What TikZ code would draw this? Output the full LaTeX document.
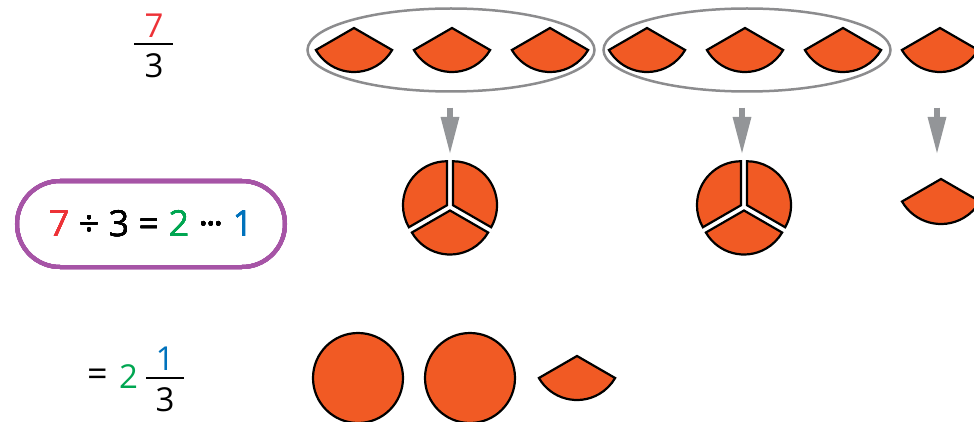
\documentclass[tikz,border=0pt]{standalone}
\usepackage{fontspec}
\setmainfont{Open Sans}
\usepackage{tikz}
\usetikzlibrary{arrows.meta,calc,shapes.geometric}
\definecolor{sliceorange}{RGB}{241,90,36}
\definecolor{groupgray}{RGB}{140,140,142}
\definecolor{arrowgray}{RGB}{147,149,152}
\definecolor{boxpurple}{RGB}{166,84,166}
\definecolor{numred}{RGB}{237,50,55}
\definecolor{numgreen}{RGB}{0,166,81}
\definecolor{numblue}{RGB}{0,114,188}
\newcommand{\cakeslice}[3]{\filldraw[slice] #1 -- ++(#2:#3) arc[start angle=#2, delta angle=120, radius=#3] -- cycle;}

\begin{document}
\begin{tikzpicture}[x=1pt,y=1pt,
  slice/.style={fill=sliceorange,draw=black,line width=2.2pt},
  group/.style={ellipse,draw=groupgray,line width=2.5pt,minimum width=287pt,minimum height=83pt},
  down/.style={draw=arrowgray,line width=6pt,-{Triangle[length=38pt,width=17pt]}},
  num/.style={font=\fontsize{33}{40}\selectfont,inner sep=0pt},
  bar/.style={line width=2.4pt}]
  \useasboundingbox (0,0) rectangle (974,421);
  \node[num,text=numred] (tn) at (154,395) {7};
  \node[num] (td) at (154,355.5) {3};
  \draw[bar] (134,377) -- (173,377);
  \node[group] (g1) at (451,371) {};
  \node[group] (g2) at (747,371) {};
  \foreach \x in {354,452,550,647,745,843,940} \cakeslice{(\x,393)}{210}{44pt}
  \node[draw=boxpurple,line width=4pt,rounded corners=43pt,minimum width=268pt,minimum height=86pt,
        font=\fontsize{36}{44}\selectfont] (eq) at (151,197)
       {\textcolor{numred}{7} ÷ 3 = \textcolor{numgreen}{2} ·\kern-2pt·\kern-2pt· \textcolor{numblue}{1}\hspace{12pt}};
  \coordinate (c1) at (450,214);
  \coordinate (c2) at (744,214);
  \coordinate (r1) at (941,242);
  \foreach \s in {90,-30,210} {\cakeslice{($(c1)+(\s+60:3.5pt)$)}{\s}{44pt}
    \cakeslice{($(c2)+(\s+60:3.5pt)$)}{\s}{44pt}}
  \cakeslice{(r1)}{210}{45pt}
  \draw[down] ($(c1 |- g1.south)+(0,-15)$) -- ($(c1)+(0,52)$);
  \draw[down] ($(c2 |- g2.south)+(-2,-15)$) -- ($(c2)+(-2,52)$);
  \draw[down] ($(r1 |- g2.south)+(-4,-15)$) -- ($(r1)+(-4,24)$);
  \node[num,font=\fontsize{36}{40}\selectfont] (eqs) at (97.5,43) {=};
  \node[num,text=numgreen] (wh) at (128.5,44) {2};
  \draw[bar] (146,43) -- (184,43);
  \node[num,text=numblue] (bn) at (165,62.5) {1};
  \node[num] (bd) at (165,21.5) {3};
  \filldraw[slice] (358,43) circle[radius=45pt];
  \filldraw[slice] (470,43) circle[radius=45pt];
  \cakeslice{(577,65)}{210}{44pt}
\end{tikzpicture}
\end{document}
